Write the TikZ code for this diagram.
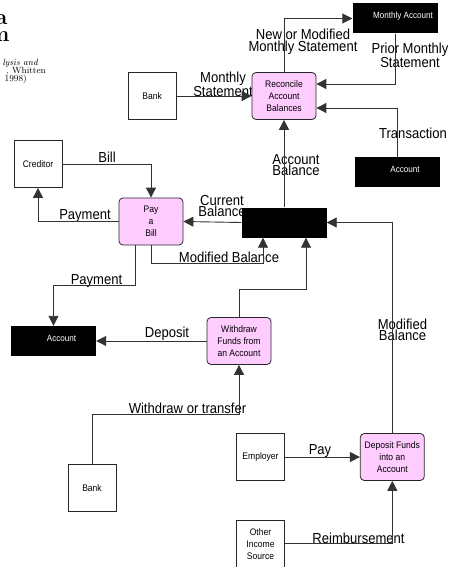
\documentclass[tikz,border=0pt]{standalone}
\usepackage{fontspec}
\usepackage{tikz}
\usetikzlibrary{arrows.meta, positioning, calc}
\newfontfamily\diagfont[FakeStretch=0.9]{Liberation Sans}
\definecolor{procpink}{HTML}{FFCCFF}
\newcommand{\StoreText}[1]{\raisebox{6pt}{\hspace*{16pt}#1}}
\tikzset{
    proc/.style={draw=black!85, fill=procpink, rounded corners=4pt, line width=0.8pt,
      minimum width=64pt, minimum height=47pt, align=center, inner sep=1pt,
      font=\diagfont\fontsize{9.5}{12}\selectfont},
    ext/.style={draw=black!85, fill=white, line width=0.8pt,
      minimum width=48pt, minimum height=47pt, align=center, inner sep=1pt,
      font=\diagfont\fontsize{9.5}{12}\selectfont},
    store/.style={fill=black, text=white, minimum width=85pt, minimum height=30pt,
      inner sep=0pt, font=\diagfont\fontsize{9}{10}\selectfont},
    flow/.style={draw=black!80, line width=0.9pt, -{Triangle[length=10pt,width=10pt]}},
    lbl/.style={font=\diagfont\fontsize{14.5}{11.5}\selectfont, align=center, inner sep=0pt},
}
\begin{document}
\begin{tikzpicture}[x=1pt, y=-1pt]
    \useasboundingbox (0,0) rectangle (453,567);

    \node[anchor=base east, font=\bfseries\fontsize{22}{22}\selectfont] (ttla) at (11,25) {a};
    \node[anchor=base east, font=\bfseries\fontsize{22}{22}\selectfont] (ttlm) at (13,42) {m};
    \node[anchor=base east, font=\itshape\fontsize{9}{9}\selectfont, inner sep=0pt] (srca) at (38,66) {lysis and};
    \node[anchor=base east, font=\fontsize{9}{9}\selectfont, inner sep=0pt] (srcb) at (46,74) {, Whitten};
    \node[anchor=base east, font=\fontsize{9}{9}\selectfont, inner sep=0pt] (srcc) at (27,82) {. 1998)};

    % flow labels
    \node[lbl] (lstmt) at (223,84) {Monthly\\Statement};
    \node[lbl] (lnewstmt) at (303,42) {New or Modified\\Monthly Statement};
    \node[lbl] (lprior) at (410,55) {Prior Monthly\\Statement};
    \node[lbl] (ltrans) at (413,133) {Transaction};
    \node[lbl] (lacctbal) at (296,165) {Account\\Balance};
    \node[lbl] (lbill) at (107,157) {Bill};
    \node[lbl] (lpayc) at (85,216) {Payment};
    \node[lbl] (lcurbal) at (222,206) {Current\\Balance};
    \node[lbl] (lmodpay) at (229,257) {Modified Balance};
    \node[lbl] (lpaya) at (96.5,281) {Payment};
    \node[lbl] (ldeposit) at (167,334) {Deposit};
    \node[lbl] (lmoddep) at (402.5,330) {Modified\\Balance};
    \node[lbl] (lwithdraw) at (187.5,408) {Withdraw or transfer};
    \node[lbl] (lpay) at (320,451) {Pay};
    \node[lbl] (lreimb) at (358.5,538) {Reimbursement};

    % processes, entities and stores
    \node[proc] (reconcile) at (284,96) {Reconcile\\Account\\Balances};
    \node[ext, left=75pt of reconcile] (banka) {Bank};
    \node[store] (monthly) at (395,18.5) {\StoreText{Monthly Account}};
    \node[store] (accountt) at (397,172) {\StoreText{Account}};
    \node[ext] (creditor) at (38,164) {Creditor};
    \node[proc] (paybill) at (151,221.5) {Pay\\a\\Bill};
    \node[store] (balance) at (284,222.5) {};
    \node[store] (accountb) at (53.5,341) {\StoreText{Account}};
    \node[proc] (withdraw) at (239,341) {Withdraw\\Funds from\\an Account};
    \node[ext] (bankb) at (92,488) {Bank};
    \node[ext] (employer) at (260.5,457) {Employer};
    \node[proc, right=75pt of employer] (deposit) {Deposit Funds\\into an\\Account};
    \node[ext, below=39pt of employer] (other) {Other\\Income\\Source};

    % data flows
    \draw[flow] (banka) -- (reconcile);
    \draw[flow] (reconcile.north) |- (monthly.west);
    \draw[flow] (monthly.south) |- ([yshift=12pt]reconcile.east);
    \draw[flow] (accountt.north) |- ([yshift=-12pt]reconcile.east);
    \draw[flow] (balance.north) -- (reconcile.south);
    \draw[flow] (creditor.east) -| (paybill.north);
    \draw[flow] (paybill.west) -| (creditor.south);
    \draw[flow] (balance.west) -- (paybill.east);
    \draw[flow] (paybill.south) |- ($(balance.south)+(-21,26)$) -- ([xshift=-21pt]balance.south);
    \draw[flow] ([xshift=-16pt]paybill.south) |- ($(accountb.north)+(0,-40)$) -- (accountb.north);
    \draw[flow] (withdraw.north) |- ($(balance.south)+(22,52)$) -- ([xshift=22pt]balance.south);
    \draw[flow] (withdraw.west) -- (accountb.east);
    \draw[flow] (bankb.north) |- ($(withdraw.south)+(0,50)$) -- (withdraw.south);
    \draw[flow] (employer) -- (deposit);
    \draw[flow] (other.east) -| (deposit.south);
    \draw[flow] (deposit.north) |- (balance.east);
\end{tikzpicture}
\end{document}
